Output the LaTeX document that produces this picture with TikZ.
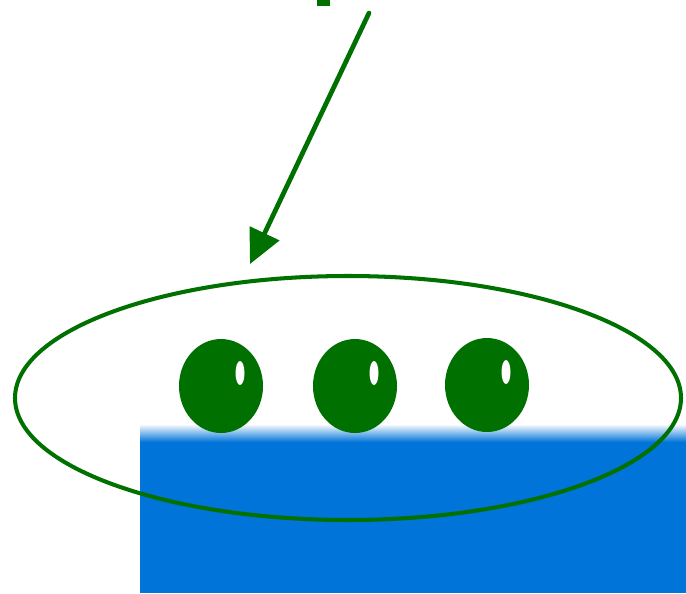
\documentclass[tikz,border=0pt]{standalone}
\usepackage{xcolor}
\usepackage{tikz}
\usetikzlibrary{arrows.meta, positioning, calc}

\definecolor{dropgreen}{RGB}{0,112,0}
\definecolor{surfblue}{RGB}{0,116,217}

\begin{document}
\begin{tikzpicture}[
    x=0.02cm, y=-0.02cm,
    drop/.style={fill=dropgreen},
    shine/.style={fill=white},
    ring/.style={draw=dropgreen, line width=2.3pt},
    arrow/.style={-{Triangle[length=0.68cm, width=0.64cm]}, draw=dropgreen, line width=2.7pt, line cap=round}
]
\useasboundingbox (0,0) rectangle (686,593);

% Surface
\shade[top color=white, bottom color=surfblue] (140,424) rectangle (686,442);
\fill[surfblue] (140,441.5) rectangle (686,593);

% Drops
\foreach \cx/\cy in {221/386, 355/386, 487/385} {
    \fill[drop] (\cx,\cy) ellipse [x radius=42, y radius=47];
    \fill[shine] (\cx+19,\cy-13) ellipse [x radius=4.5, y radius=12];
}

% Outline round the drops
\draw[ring] (348,398) ellipse [x radius=333, y radius=122];

% Pointer
\fill[dropgreen] (317,0) rectangle (330,6);
\coordinate (from) at (369,13);
\coordinate (to) at (250,264);
\draw[arrow] (from) -- (to);

\end{tikzpicture}
\end{document}
